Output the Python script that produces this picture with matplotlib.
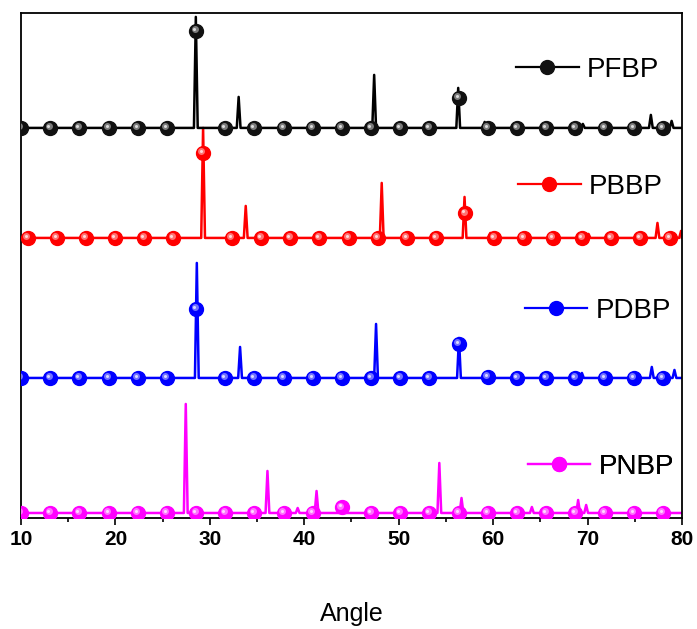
import numpy as np
import matplotlib

matplotlib.use("Agg")
import matplotlib.pyplot as plt
from matplotlib import transforms
from matplotlib.lines import Line2D

plt.rcParams['font.family'] = ['Liberation Sans', 'DejaVu Sans']

# 衍射峰：位置 (2θ) 和峰高 (a.u.)
names = ['PFBP', 'PBBP', 'PDBP', 'PNBP']
colors = ['#000000', '#ff0000', '#0000ff', '#ff00ff']
offsets = [390, 280, 140, 5]  # 各曲线的基线偏移
mark_start = [10.0, 10.7, 10.0, 10.0]  # 圆点标记起始角度

pfbp_pos = [28.515, 33.05, 47.4, 56.3, 59.1, 69.5, 76.7, 78.9]
pfbp_h = [111, 31, 53, 40, 6, 4, 13, 7]
pbbp_pos = [29.285, 33.8, 48.2, 56.97, 59.7, 70.1, 77.4, 79.9]
pbbp_h = [110, 32, 55, 41, 5, 4, 15, 7]
pdbp_pos = [28.62, 33.2, 47.6, 56.38, 59.3, 69.4, 76.8, 79.2]
pdbp_h = [115, 31, 54, 40, 4, 5, 11, 8]
pnbp_pos = [27.45, 36.1, 39.3, 41.3, 44.0, 54.3, 56.65, 64.1, 69.0, 69.85]
pnbp_h = [109, 42, 5, 22, 6, 50, 15, 6, 13, 8]

peak_pos = [pfbp_pos, pbbp_pos, pdbp_pos, pnbp_pos]
peak_h = [pfbp_h, pbbp_h, pdbp_h, pnbp_h]

# 图例位置 (axes 坐标)
legend_anchor = [(0.749, 0.887), (0.752, 0.655), (0.762, 0.410), (0.767, 0.101)]

HALF_W = 0.2  # 峰的半宽
MARK_STEP = 3.09


def build_curve(pos, h, off):
    """把峰列表连成折线"""
    xs, ys = [10.0], [off]
    for p, hh in zip(pos, h):
        xs += [p - HALF_W, p, p + HALF_W]
        ys += [off, off + hh, off]
    xs.append(80.0)
    ys.append(off)
    return np.array(xs), np.array(ys)


def lighter(c, f):
    rgb = np.array(matplotlib.colors.to_rgb(c))
    return tuple(rgb + (1 - rgb) * f)


fig = plt.figure(figsize=(6.97, 6.29), dpi=100)
ax = fig.add_axes([0.0301, 0.1765, 0.9484, 0.8030])

hl1 = transforms.offset_copy(ax.transData, fig=fig, x=-1.5, y=1.5, units='dots')
hl2 = transforms.offset_copy(ax.transData, fig=fig, x=-2.0, y=2.0, units='dots')

order = [3, 2, 1, 0]  # 黑色画在最上面
for i in order:
    x, y = build_curve(peak_pos[i], peak_h[i], offsets[i])
    c = colors[i]
    ax.plot(x, y, color=c, lw=1.8, zorder=2)
    mx = mark_start[i] + MARK_STEP * np.arange(23)
    mx = mx[mx <= 80]
    my = np.interp(mx, x, y)
    base = '#111111' if i == 0 else c
    ax.plot(mx, my, ls='none', marker='o', ms=10, mfc=base, mec=base, zorder=3)
    ax.plot(mx, my, ls='none', marker='o', ms=5, mfc=lighter(base, 0.45), mec='none',
            transform=hl1, zorder=4)
    ax.plot(mx, my, ls='none', marker='o', ms=2.2, mfc=lighter(base, 0.85), mec='none',
            transform=hl2, zorder=5)

# 每条曲线单独一个图例
for i in range(4):
    c = colors[i]
    base = '#111111' if i == 0 else c
    h = Line2D([], [], color=c, lw=1.6, marker='o', ms=10, mfc=base, mec=base)
    leg = ax.legend([h], [names[i]], loc='center left', bbox_to_anchor=legend_anchor[i],
                    frameon=False, fontsize=20, handlelength=2.25, handletextpad=0.3,
                    borderpad=0, borderaxespad=0)
    ax.add_artist(leg)

ax.set_xlim(10, 80)
ax.set_ylim(0, 505)
ax.set_xticks(np.arange(10, 81, 10))
ax.set_xticks(np.arange(10, 81, 5), minor=True)
ax.set_yticks([])
ax.tick_params(axis='x', which='major', direction='out', length=5, width=1.2, pad=4,
               labelsize=15)
ax.tick_params(axis='x', which='minor', direction='out', length=3, width=1.2)
for lab in ax.get_xticklabels():
    lab.set_fontweight('bold')
for s in ax.spines.values():
    s.set_linewidth(1.3)
ax.set_xlabel('Angle', fontsize=18, labelpad=38)

fig.savefig('out.png', dpi=100)
plt.close(fig)
